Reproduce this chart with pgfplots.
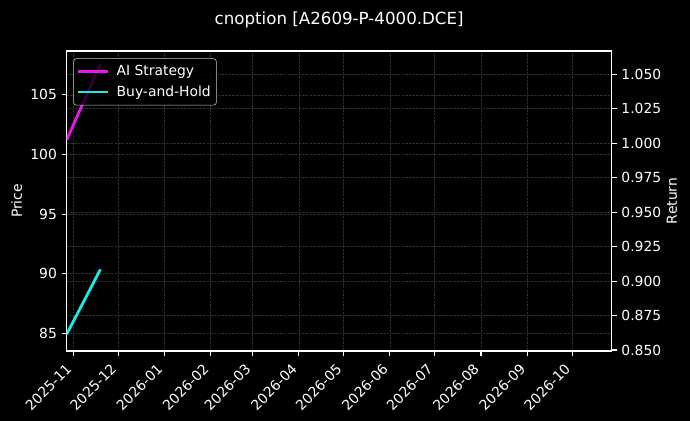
\documentclass[border=0pt]{standalone}
\usepackage{fontspec}
\setmainfont{DejaVu Sans}
\usepackage{pgfplots}
\pgfplotsset{compat=1.18}

\definecolor{gridc}{RGB}{46,46,46}
\definecolor{legedge}{RGB}{200,200,200}
\definecolor{aimag}{RGB}{238,20,238}
\definecolor{bhcyan}{RGB}{25,235,235}

% days counted from 2025-11-01
\pgfplotstableread{
x y
-4.5 101.22
6.8 104.40
18.1 107.60
}\aistrategy
\pgfplotstableread{
x y
-4.5 84.92
6.8 87.63
18.1 90.36
}\buyhold

\pgfplotsset{
  darkax/.style={
    scale only axis, width=392.4pt, height=216pt,
    xmin=-4.5, xmax=360.5,
    axis line style={white, line width=0.8pt},
    tick style={white, line width=0.8pt},
    major tick length=3.5pt, tick align=outside,
    ticklabel style={text=white, font=\fontsize{10}{12}\selectfont},
    /pgf/number format/assume math mode=true,
    label style={text=white, font=\fontsize{10}{12}\selectfont},
    grid=major,
    major grid style={gridc, line width=0.5pt, dash pattern=on 1.85pt off 0.8pt},
  }
}

\begin{document}
\begin{tikzpicture}
\fill[black] (-48pt,-50.4pt) rectangle (448.8pt,252.7pt);

% right axis: return
\begin{axis}[darkax,
  axis x line=none, axis y line*=right,
  ymin=0.8493, ymax=1.0669,
  ytick={0.85,0.875,0.9,0.925,0.95,0.975,1.0,1.025,1.05},
  yticklabel style={/pgf/number format/.cd, fixed, fixed zerofill, precision=3},
  xmajorgrids=false,
  ylabel={Return},
  ylabel style={at={(rel axis cs:1.1103,0.5)}, anchor=center, rotate=0},
]
\addplot[draw=none, forget plot] coordinates {(0,0.9)};
\end{axis}

% left axis: price
\begin{axis}[darkax,
  ymin=83.51, ymax=108.69,
  ytick={85,90,95,100,105},
  xtick pos=bottom, ytick pos=left,
  xtick={0,30,61,92,120,151,181,212,242,273,304,334},
  xticklabels={2025-11,2025-12,2026-01,2026-02,2026-03,2026-04,2026-05,2026-06,2026-07,2026-08,2026-09,2026-10},
  xticklabel style={xshift=-6pt, yshift=-3.5pt, rotate=45, anchor=north east, inner sep=1pt},
  ylabel={Price},
  ylabel style={at={(rel axis cs:-0.0917,0.5)}, anchor=center},
  title={cnoption [A2609-P-4000.DCE]},
  title style={at={(rel axis cs:0.5,1.103)}, anchor=center, yshift=-6pt, text=white, font=\fontsize{12}{14}\selectfont},
  legend style={at={(0,1)}, anchor=north west, xshift=4.8pt, yshift=-5.3pt,
    fill=black, fill opacity=0.8, text opacity=1, draw=legedge, draw opacity=1,
    rounded corners=2pt, text=white, font=\fontsize{10}{12}\selectfont,
    inner xsep=2pt, inner ysep=3pt, row sep=1.5pt},
  legend cell align=left,
  legend image code/.code={\draw[#1] (0pt,0pt) -- (22pt,0pt); \path (25pt,0pt);},
]
\addplot[aimag, line width=2pt] table {\aistrategy};
\addlegendentry{AI Strategy}
\addplot[bhcyan, line width=2pt] table {\buyhold};
\addlegendentry{Buy-and-Hold}
\end{axis}

\pgfresetboundingbox
\path[use as bounding box] (-48pt,-50.4pt) rectangle (448.8pt,252.7pt);
\end{tikzpicture}
\end{document}
